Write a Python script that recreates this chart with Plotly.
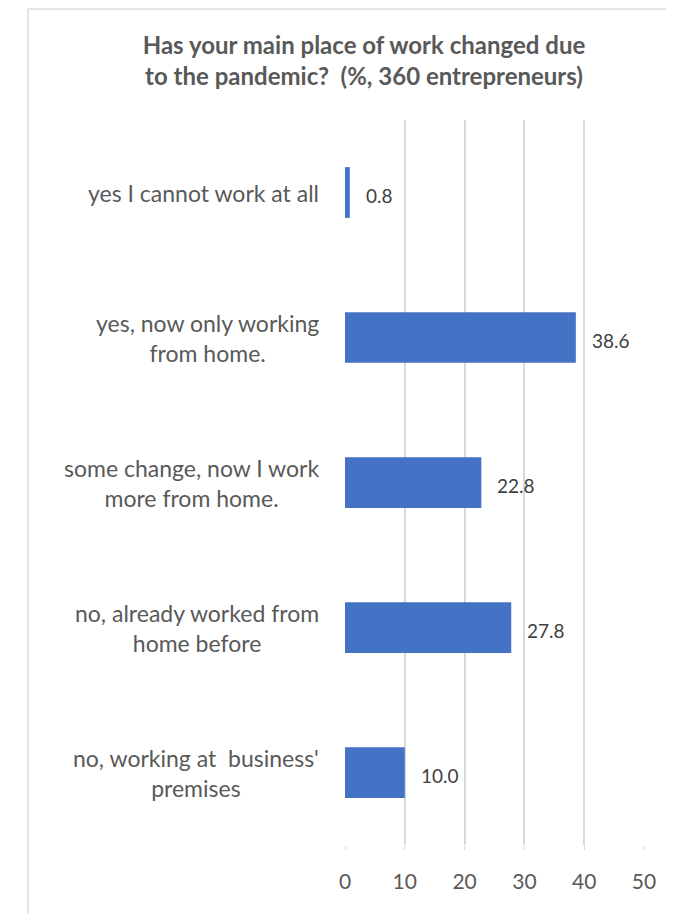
import plotly.graph_objects as go

# answers, top to bottom
answers = [
    "yes I cannot work at all",
    "yes, now only working<br>from home.",
    "some change, now I work<br>more from home.",
    "no, already worked from<br>home before",
    "no, working at  business'<br>premises",
]
shares = [0.8, 38.6, 22.8, 27.8, 10.0]
share_text = ["0.8", "38.6", "22.8", "27.8", "10.0"]
x_ticks = [0, 10, 20, 30, 40, 50]

# page body has an 8px margin, so the figure is a bit smaller than the window
W, H = 666, 906
L, R, T, B = 337, 30, 112, 69
FONT = "Lato, sans-serif"

fig = go.Figure(go.Bar(
    x=shares,
    y=answers,
    orientation="h",
    marker=dict(color="#4472C4", line=dict(width=0)),
    width=0.35,
    hoverinfo="x+y",
))

# category labels as centred blocks left of the plot
for a in answers:
    fig.add_annotation(
        x=0, xref="paper", xanchor="right", xshift=-24,
        y=a, yref="y",
        text=a, showarrow=False, align="center",
        font=dict(family=FONT, size=23, color="#595959"),
    )

# value labels
for a, v, t in zip(answers, shares, share_text):
    fig.add_annotation(
        x=v, xref="x", xanchor="left", xshift=14,
        y=a, yref="y", yshift=-3,
        text=t, showarrow=False,
        font=dict(family=FONT, size=19, color="#404040"),
    )

# light frame of the chart area (top and left edges)
px = lambda v: (v - L) / (W - L - R)
py = lambda v: 1 - (v - T) / (H - T - B)
fig.add_shape(type="line", xref="paper", yref="paper",
              x0=px(20), x1=px(W + 5), y0=py(1), y1=py(1),
              line=dict(color="#DDDDDD", width=1.5))
fig.add_shape(type="line", xref="paper", yref="paper",
              x0=px(20), x1=px(20), y0=py(1), y1=py(H + 5),
              line=dict(color="#DDDDDD", width=1.5))

fig.update_layout(
    width=W, height=H,
    margin=dict(l=L, r=R, t=T, b=B),
    paper_bgcolor="white", plot_bgcolor="white",
    showlegend=False,
    title=dict(
        text="<b>Has your main place of work changed due<br>to the pandemic?  (%, 360 entrepreneurs)</b>",
        x=356 / W, xanchor="center", y=1 - 46 / H, yanchor="middle",
        font=dict(family=FONT, size=24, color="#595959"),
    ),
)
fig.update_xaxes(
    range=[0, 50], tickvals=x_ticks, showgrid=True, gridcolor="#D9D9D9", gridwidth=1.5,
    zeroline=False, showline=False, ticks="outside", ticklen=4, tickcolor="#D9D9D9",
    ticklabelstandoff=14,
    tickfont=dict(family=FONT, size=21, color="#595959"),
    fixedrange=True,
)
fig.update_yaxes(
    autorange="reversed", showticklabels=False, showgrid=False, zeroline=False,
    showline=False, fixedrange=True,
)

fig.write_html("out.html")
